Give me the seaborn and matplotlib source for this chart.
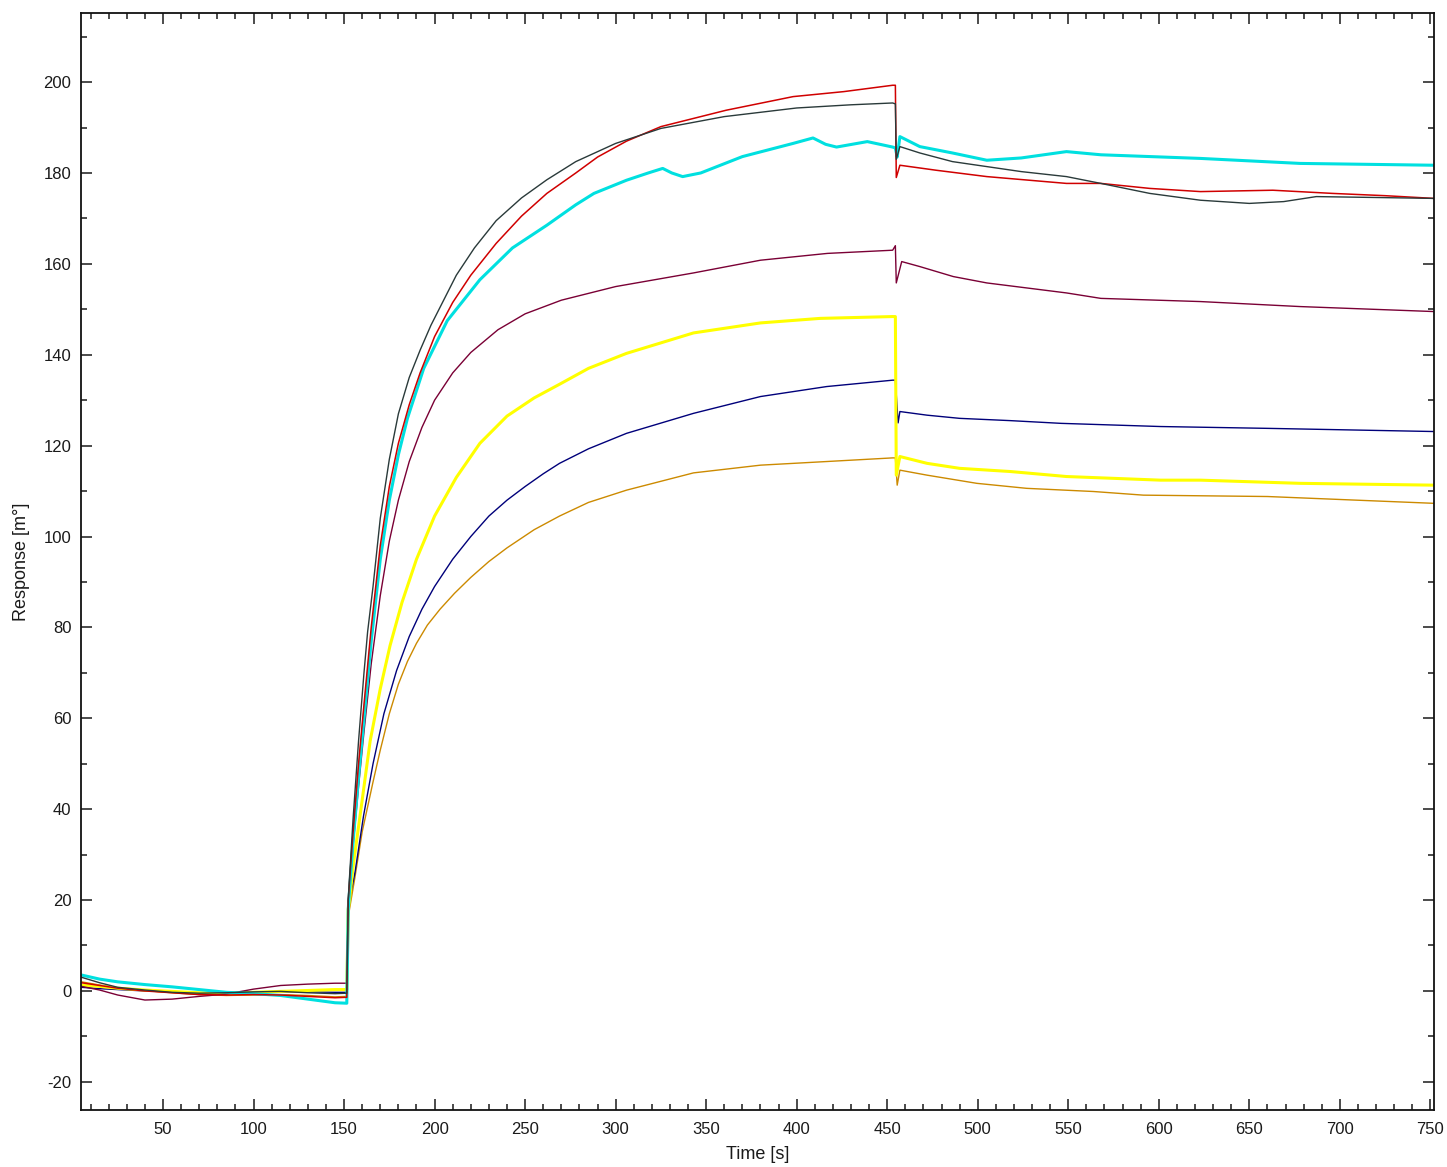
import matplotlib
matplotlib.use("Agg")
import matplotlib.pyplot as plt
from matplotlib.ticker import MultipleLocator
import numpy as np
import pandas as pd
import seaborn as sns

# Baseline (buffer) phase, shared time points
base_t = [5, 15, 25, 40, 55, 70, 85, 100, 115, 130, 145, 151.5]

base_black = [3.0, 1.8, 0.8, 0.2, -0.3, -0.5, -0.4, -0.2, -0.1, -0.4, -0.6, -0.5]
base_red = [1.8, 1.2, 0.6, 0.0, -0.4, -0.8, -0.9, -0.8, -0.9, -1.2, -1.5, -1.4]
base_cyan = [3.5, 2.6, 2.0, 1.4, 0.9, 0.3, -0.3, -0.6, -1.0, -1.8, -2.6, -2.7]
base_purple = [1.0, 0.2, -0.9, -2.0, -1.8, -1.2, -0.7, 0.4, 1.2, 1.5, 1.7, 1.7]
base_yellow = [1.3, 1.0, 0.6, 0.2, -0.1, -0.4, -0.5, -0.3, -0.1, 0.1, 0.3, 0.3]
base_navy = [0.8, 0.5, 0.3, 0.0, -0.2, -0.4, -0.5, -0.4, -0.2, -0.2, -0.3, -0.3]
base_orange = [2.0, 1.3, 0.7, 0.1, -0.4, -0.8, -1.0, -0.9, -0.8, -1.0, -1.3, -1.2]

# Association + dissociation phases
t_black = [152.3, 153, 155, 158, 161, 163, 166, 170, 175, 180, 186, 192, 198, 205, 212,
           222, 234, 248, 262, 278, 300, 325, 360, 400, 430, 453, 454.5, 455, 457, 468,
           486, 505, 524, 549, 568, 595, 623, 650, 669, 687, 720, 752]
v_black = [20, 25, 38, 55, 70, 79, 89, 104, 117, 127, 135, 141, 146.5, 152, 157.5,
           163.5, 169.5, 174.5, 178.5, 182.5, 186.5, 189.8, 192.4, 194.3, 195, 195.4, 195.2, 183, 185.8, 184.4,
           182.5, 181.4, 180.3, 179.2, 177.7, 175.5, 174, 173.3, 173.7, 174.8, 174.6, 174.4]

t_red = [152.3, 153, 155, 158, 161, 165, 170, 175, 180, 186, 192, 200, 210, 220, 234,
         248, 262, 278, 290, 306, 325, 361, 398, 426, 453, 454.5, 455, 457, 477, 505,
         549, 568, 595, 623, 663, 696, 725, 752]
v_red = [20, 24, 35, 50, 63, 80, 98, 111, 120.5, 129, 136, 144, 151.5, 157.5, 164.5,
         170.5, 175.5, 180, 183.5, 187, 190.2, 193.8, 196.8, 197.9, 199.3, 199.3, 179, 181.7, 180.6, 179.2,
         177.7, 177.7, 176.6, 175.9, 176.2, 175.5, 175.0, 174.4]

t_cyan = [152.3, 153, 155, 158, 161, 165, 170, 175, 180, 185, 194, 207, 225, 243, 262,
          278, 288, 306, 318, 326, 331, 337, 347, 370, 398, 409, 416, 422, 439, 453,
          454.5, 455.5, 457, 468, 486, 505, 524, 549, 568, 623, 678, 752]
v_cyan = [18, 22, 33, 47, 60, 77, 95, 108, 118, 126, 137, 147.5, 156.5, 163.5, 168.5,
          173, 175.5, 178.4, 180, 181, 180, 179.2, 180, 183.6, 186.5, 187.7, 186.3, 185.7, 186.9, 185.7,
          185.5, 183.5, 188, 185.8, 184.4, 182.8, 183.3, 184.7, 184, 183.2, 182.1, 181.7]

t_purple = [152.3, 153, 155, 158, 161, 165, 170, 175, 180, 186, 193, 200, 210, 220, 235,
            250, 270, 300, 343, 380, 417, 453, 454.5, 455, 458, 468, 486.5, 505, 549, 568,
            623, 678, 752]
v_purple = [20, 22, 32, 45, 57, 72, 87, 99, 108, 116.5, 124, 130, 136, 140.5, 145.5,
            149, 152, 155, 158, 160.8, 162.3, 163, 164, 155.8, 160.5, 159.4, 157.2, 155.8, 153.6, 152.4,
            151.7, 150.6, 149.5]

t_yellow = [152.3, 153, 155, 160, 164.4, 170, 175.4, 182, 190, 200, 212, 225, 240, 255, 269,
            285, 306, 343, 380, 413, 453, 454.5, 455, 457, 472, 490, 518, 549, 601, 623, 678, 752]
v_yellow = [18, 20, 27.4, 42, 55, 66.5, 76, 85.5, 95, 104.5, 113, 120.5, 126.5, 130.5, 133.5,
            137, 140.3, 144.8, 147, 148, 148.4, 148.4, 113.5, 117.6, 116.1, 115, 114.3, 113.2, 112.4, 112.4, 111.7, 111.3]

t_navy = [152.3, 153, 156, 160.7, 166, 172, 179, 186, 193, 200, 210, 220, 230, 240, 250,
          260, 269, 285, 306, 343, 380, 416.6, 453, 454.5, 456, 457, 472, 490, 518, 546,
          601, 660, 752]
v_navy = [18, 20, 26, 38.4, 50, 61, 70.5, 78, 84, 89, 95, 100, 104.5, 108, 111,
          113.8, 116.1, 119.3, 122.7, 127.1, 130.8, 133, 134.4, 134.4, 125, 127.5, 126.7, 126, 125.5, 124.9,
          124.2, 123.8, 123.1]

t_orange = [152.3, 153, 156, 160, 166, 170, 175, 180, 185, 190, 196, 203, 211, 220, 230,
            240, 255, 269, 285, 306, 343, 380, 416.6, 453, 454.5, 455.5, 457, 472, 499.5, 527,
            564, 591.5, 660, 752]
v_orange = [16, 18, 25, 35, 46, 53, 61, 67.5, 72.5, 76.5, 80.5, 84, 87.5, 91, 94.5,
            97.5, 101.5, 104.5, 107.5, 110.2, 114, 115.7, 116.5, 117.3, 117.3, 111.3, 114.6, 113.5, 111.7, 110.6,
            109.9, 109.1, 108.8, 107.3]

x_ticks = list(range(50, 751, 50))
y_ticks = list(range(-20, 201, 20))

series = [
    # name, baseline, times, values, colour, width
    ("orange", base_orange, t_orange, v_orange, "#cc8a00", 1.0),
    ("navy", base_navy, t_navy, v_navy, "#00007a", 1.0),
    ("yellow", base_yellow, t_yellow, v_yellow, "#ffff00", 2.2),
    ("purple", base_purple, t_purple, v_purple, "#7a0035", 1.0),
    ("cyan", base_cyan, t_cyan, v_cyan, "#00e0e0", 2.2),
    ("red", base_red, t_red, v_red, "#d00000", 1.1),
    ("black", base_black, t_black, v_black, "#2a3a3a", 1.0),
]

frames = []
for name, b, t, v, c, w in series:
    frames.append(pd.DataFrame({"Time": base_t + t, "Response": b + v, "curve": name}))
df = pd.concat(frames, ignore_index=True)

sns.set_style("ticks")
plt.rcParams["font.family"] = ["Liberation Sans", "DejaVu Sans"]
plt.rcParams["axes.unicode_minus"] = False

fig = plt.figure(figsize=(14.47, 11.67), dpi=100)
ax = fig.add_axes([81 / 1447, 57 / 1167, 1353 / 1447, 1097 / 1167])

for name, b, t, v, c, w in series:
    sub = df[df["curve"] == name]
    sns.lineplot(data=sub, x="Time", y="Response", color=c, linewidth=w,
                 sort=False, estimator=None, ax=ax)

ax.set_xlim(4.7, 752)
ax.set_ylim(-26.2, 215.2)
ax.set_xticks(x_ticks)
ax.set_yticks(y_ticks)
ax.xaxis.set_minor_locator(MultipleLocator(10))
ax.yaxis.set_minor_locator(MultipleLocator(10))
ax.tick_params(which="both", direction="in", top=True, right=True,
               labelsize=12, colors="#1a1a1a", width=1.1)
ax.tick_params(which="major", length=8)
ax.tick_params(axis="x", which="major", pad=9)
ax.tick_params(axis="y", which="major", pad=7)
ax.tick_params(which="minor", length=4)
for s in ax.spines.values():
    s.set_visible(True)
    s.set_linewidth(1.3)
    s.set_color("#111111")

ax.set_xlabel("Time [s]", fontsize=13, color="#1a1a1a")
ax.set_ylabel("Response [m°]", fontsize=13, color="#1a1a1a")
ax.xaxis.set_label_coords(0.5, -0.033)
ax.yaxis.set_label_coords(-0.038, 0.5)

fig.savefig("out.png", dpi=100, facecolor="white")
